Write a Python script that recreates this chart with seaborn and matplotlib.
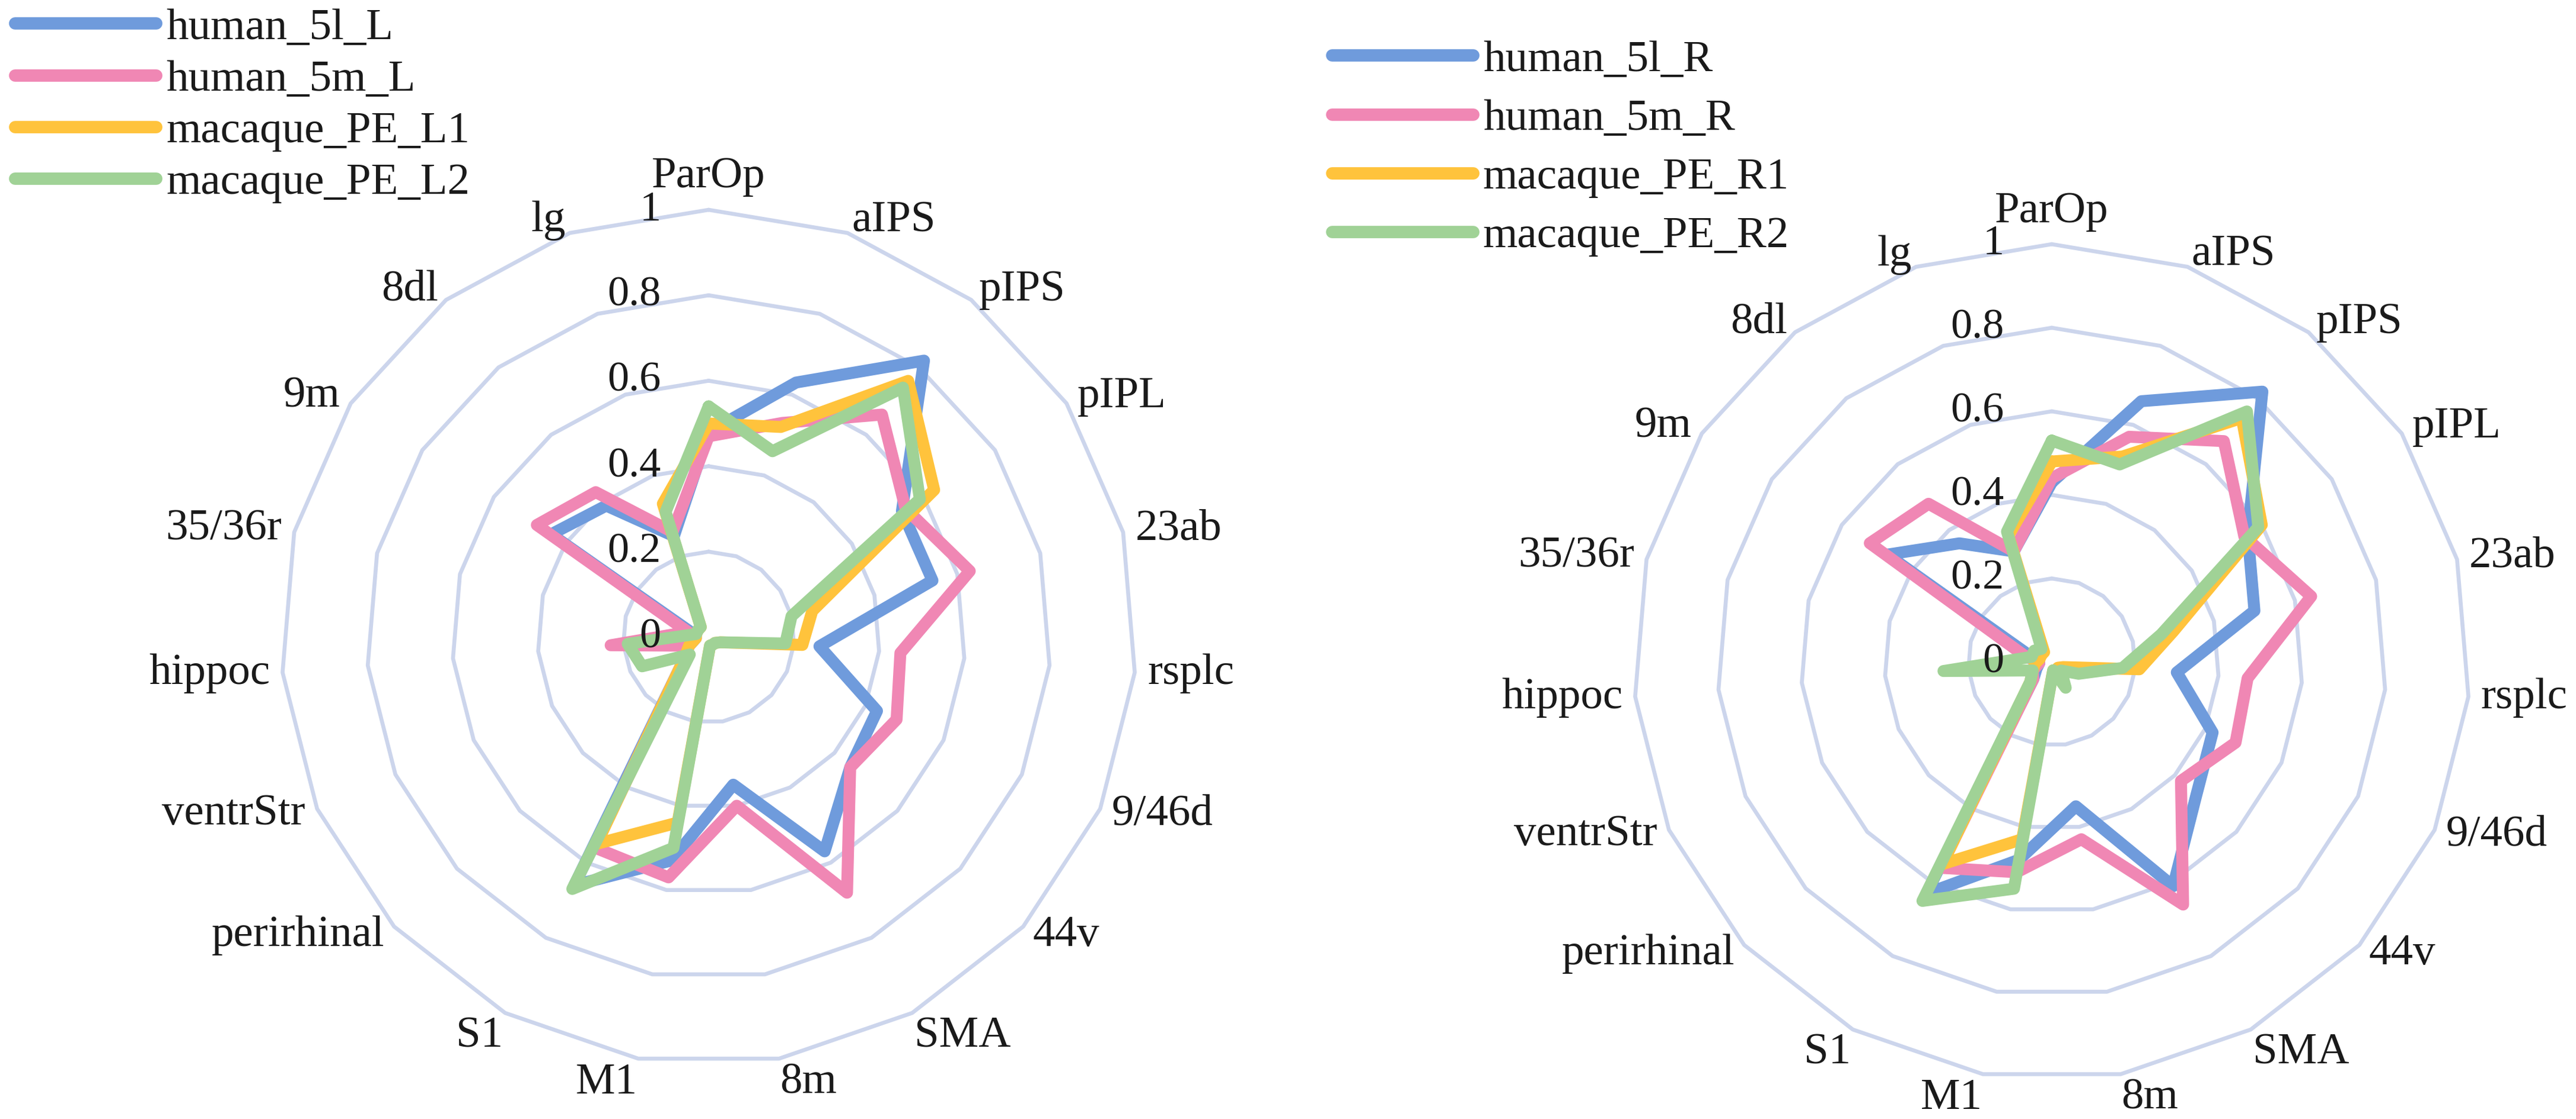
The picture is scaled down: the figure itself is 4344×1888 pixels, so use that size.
import numpy as np
import pandas as pd
import matplotlib
matplotlib.use('Agg')
import matplotlib.pyplot as plt
import seaborn as sns

#%% DATA
regions = ['ParOp', 'aIPS', 'pIPS', 'pIPL', '23ab', 'rsplc', '9/46d', '44v', 'SMA', '8m',
           'M1', 'S1', 'perirhinal', 'ventrStr', 'hippoc', '35/36r', '9m', '8dl', 'lg']

# left hemisphere
human_5l_L    = [0.48, 0.63, 0.82, 0.54, 0.54, 0.26, 0.43, 0.45, 0.57, 0.35, 0.53, 0.66, 0.08, 0.05, 0.03, 0.04, 0.44, 0.39, 0.25]
human_5m_L    = [0.47, 0.53, 0.66, 0.55, 0.63, 0.45, 0.48, 0.45, 0.68, 0.40, 0.57, 0.56, 0.08, 0.05, 0.23, 0.05, 0.48, 0.43, 0.26]
macaque_PE_L1 = [0.50, 0.52, 0.76, 0.63, 0.25, 0.22, 0.03, 0.02, 0.02, 0.02, 0.44, 0.55, 0.08, 0.05, 0.03, 0.03, 0.03, 0.03, 0.33]
macaque_PE_L2 = [0.54, 0.46, 0.74, 0.59, 0.20, 0.18, 0.03, 0.02, 0.02, 0.02, 0.50, 0.67, 0.06, 0.17, 0.19, 0.03, 0.03, 0.03, 0.31]

# right hemisphere
human_5l_R    = [0.43, 0.66, 0.82, 0.56, 0.50, 0.30, 0.42, 0.47, 0.61, 0.35, 0.48, 0.63, 0.06, 0.04, 0.03, 0.05, 0.47, 0.36, 0.28]
human_5m_R    = [0.44, 0.57, 0.67, 0.55, 0.64, 0.47, 0.48, 0.42, 0.66, 0.43, 0.51, 0.56, 0.06, 0.05, 0.03, 0.07, 0.52, 0.48, 0.28]
macaque_PE_R1 = [0.48, 0.52, 0.74, 0.60, 0.30, 0.21, 0.03, 0.02, 0.03, 0.02, 0.43, 0.55, 0.07, 0.05, 0.04, 0.03, 0.03, 0.03, 0.32]
macaque_PE_R2 = [0.53, 0.50, 0.76, 0.59, 0.27, 0.17, 0.07, 0.03, 0.07, 0.02, 0.55, 0.65, 0.07, 0.05, 0.26, 0.05, 0.05, 0.04, 0.33]

ring_values = [0.2, 0.4, 0.6, 0.8, 1.0]
tick_values = [0, 0.2, 0.4, 0.6, 0.8, 1.0]
tick_labels = ['0', '0.2', '0.4', '0.6', '0.8', '1']

colors = ['#6F9BDC', '#F087B4', '#FFC33C', '#A0D296']
grid_color = '#CCD5EC'

#%% STYLE
sns.set_style('white')
plt.rcParams['font.family'] = ['Liberation Serif', 'DejaVu Serif']
plt.rcParams['text.color'] = '#1a1a1a'


def to_long(series):
    # one row per vertex, first vertex repeated at the end to close the loop
    n = len(regions)
    rows = []
    for name, vals in series.items():
        for k in range(n + 1):
            rows.append({'series': name,
                         'theta': 2 * np.pi * k / n,
                         'value': vals[k % n]})
    return pd.DataFrame(rows)


def radar(fig, rect, series, leg_anchor, leg_spacing, fs=54):
    ax = fig.add_axes(rect, projection='polar')
    n = len(regions)
    th = 2 * np.pi * np.arange(n + 1) / n

    # polygon rings like the excel radar grid
    for v in ring_values:
        ax.plot(th, [v] * (n + 1), color=grid_color, lw=4.8, zorder=0,
                clip_on=False, solid_joinstyle='round')

    df = to_long(series)
    sns.lineplot(data=df, x='theta', y='value', hue='series', sort=False,
                 estimator=None, palette=colors, linewidth=14.5, ax=ax,
                 solid_joinstyle='round', solid_capstyle='round', zorder=3)

    ax.set_theta_zero_location('N')
    ax.set_theta_direction(-1)
    ax.set_ylim(0, 1)
    ax.grid(False)
    ax.spines['polar'].set_visible(False)
    ax.set_xticks([])
    ax.set_yticks([])
    ax.set_xlabel('')
    ax.set_ylabel('')
    for line in ax.lines:
        line.set_clip_on(False)

    # value labels along the first spoke
    for v, lbl in zip(tick_values, tick_labels):
        ax.annotate(lbl, xy=(0, v), xytext=(-58, 0), textcoords='offset points',
                    ha='right', va='center', fontsize=fs - 2, zorder=5)

    # category labels round the outside
    for i, name in enumerate(regions):
        a = 2 * np.pi * i / n
        s, c = np.sin(a), np.cos(a)
        ha = 'left' if s > 0.1 else ('right' if s < -0.1 else 'center')
        r = 1.03
        if c > 0.99:
            va = 'bottom'
        elif c < -0.8:
            va = 'top'
            r = 1.01
        else:
            va = 'center'
        ax.text(a, r, name, ha=ha, va=va, fontsize=fs, clip_on=False)

    old = ax.get_legend()
    handles = old.legend_handles
    labels = [t.get_text() for t in old.get_texts()]
    old.remove()
    leg = fig.legend(handles, labels, loc='upper left', bbox_to_anchor=leg_anchor,
                     bbox_transform=fig.transFigure, frameon=False, fontsize=fs,
                     handlelength=3.17, handletextpad=0.23, labelspacing=leg_spacing,
                     borderpad=0, borderaxespad=0)
    for h in leg.legend_handles:
        h.set_linewidth(15)
        h.set_solid_capstyle('round')
    return ax


fig = plt.figure(figsize=(43.44, 18.88), dpi=100)

left = {'human_5l_L': human_5l_L, 'human_5m_L': human_5m_L,
        'macaque_PE_L1': macaque_PE_L1, 'macaque_PE_L2': macaque_PE_L2}
right = {'human_5l_R': human_5l_R, 'human_5m_R': human_5m_R,
         'macaque_PE_R1': macaque_PE_R1, 'macaque_PE_R2': macaque_PE_R2}

radar(fig, [0.10912, 0.04873, 0.33195, 0.76377], left, (0.0058, 0.9931), 0.25)
radar(fig, [0.63421, 0.03496, 0.32459, 0.74682], right, (0.517, 0.9645), 0.41)

fig.savefig('out.png', dpi=100, facecolor='white')
